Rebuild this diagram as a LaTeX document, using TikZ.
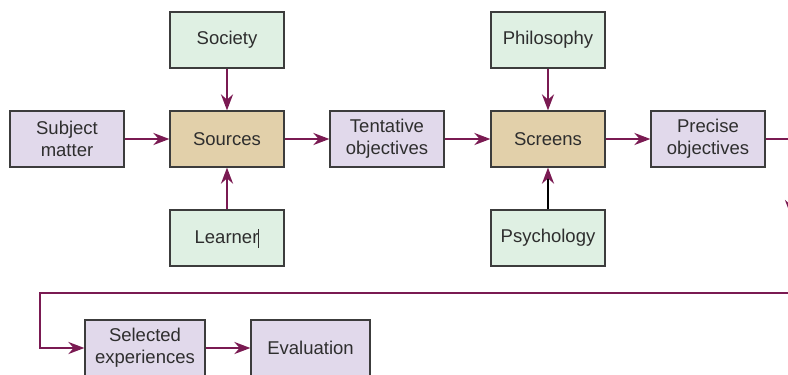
\documentclass[tikz,border=0pt]{standalone}
\usepackage{fontspec}
\setmainfont{Liberation Sans}
\usetikzlibrary{arrows.meta}
\definecolor{boxgreen}{HTML}{DFF0E3}
\definecolor{boxpurple}{HTML}{E1D9EB}
\definecolor{boxtan}{HTML}{E2D0AA}
\definecolor{linemag}{HTML}{7A1A52}
\definecolor{edgegray}{HTML}{3C3C3C}
\definecolor{txt}{HTML}{2E2E2E}
\tikzset{
  box/.style={draw=edgegray, line width=1.2pt, minimum width=114pt, minimum height=56pt,
    inner sep=2pt, align=center, text=txt, font=\fontsize{18.5}{22}\selectfont},
  gbox/.style={box, fill=boxgreen},
  pbox/.style={box, fill=boxpurple},
  tbox/.style={box, fill=boxtan},
  conn/.style={draw=linemag, line width=2.3pt, -{Stealth[length=16pt,width=12pt]}},
  blackconn/.style={draw=black, line width=2.3pt, -{Stealth[length=16pt,width=12pt,color=linemag]}},
}
\begin{document}
\begin{tikzpicture}[x=1pt,y=-1pt]
\useasboundingbox (0,0) rectangle (788,375);
\clip (0,0) rectangle (788,375);
\node[pbox] (subj) at (67,139) {Subject\\matter};
\node[tbox] (src) at (227,139) {Sources};
\node[gbox] (soc) at (227,40) {Society};
\node[gbox] (lrn) at (227,238) {Learner\rule[-4pt]{0.9pt}{19pt}};
\node[pbox] (tent) at (387,139) {Tentative\\objectives};
\node[tbox] (scr) at (548,139) {Screens};
\node[gbox] (phil) at (548,40) {Philosophy};
\node[gbox] (psy) at (548,238) {Psychology};
\node[pbox] (prec) at (708,139) {Precise\\objectives};
\node[pbox, minimum width=120pt] (sel) at (145,348) {Selected\\experiences};
\node[pbox, minimum width=119pt] (eval) at (310.5,348) {Evaluation};
\coordinate (r1) at (791,139);
\coordinate (r2) at (791,216);
\coordinate (r3) at (800,293);
\coordinate (l1) at (40,293);
\coordinate (l2) at (40,348);
\draw[conn] (subj) -- (src);
\draw[conn] (soc) -- (src);
\draw[conn] (lrn) -- (src);
\draw[conn] (src) -- (tent);
\draw[conn] (tent) -- (scr);
\draw[conn] (phil) -- (scr);
\draw[blackconn] (psy) -- (scr);
\draw[conn] (scr) -- (prec);
\draw[conn] (prec) -- (r1) -- (r2);
\draw[conn] (r3) -- (l1) -- (l2) -- (sel);
\draw[conn] (sel) -- (eval);
\end{tikzpicture}
\end{document}
